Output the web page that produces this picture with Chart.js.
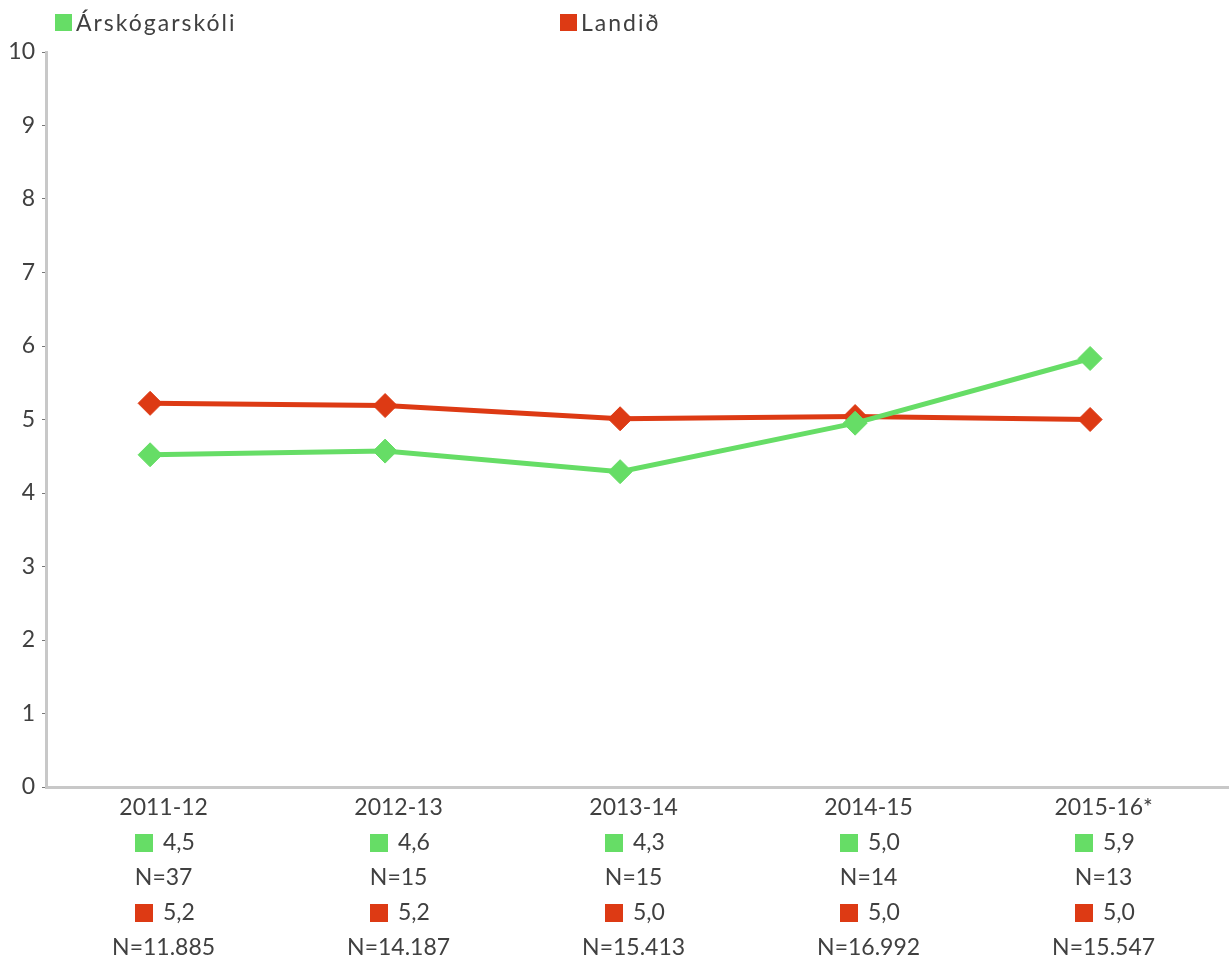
<!DOCTYPE html>
<html>
<head>
<meta charset="utf-8">
<script src="https://cdn.jsdelivr.net/npm/chart.js@4/dist/chart.umd.min.js"></script>
<style>
  body { margin: 0; background: #fff; }
  .wrap { position: relative; width: 1229px; height: 957px; }
  .legend { position: absolute; top: 8px; left: 0; font: 23px Lato, sans-serif; color: #404040; letter-spacing: 2px; }
  .legend span.item { position: absolute; white-space: nowrap; display: flex; align-items: center; }
  .legend i { display: inline-block; width: 17px; height: 17px; margin-right: 4px; }
</style>
</head>
<body>
<div class="wrap">
  <div class="legend" id="legend"></div>
  <canvas id="chart"></canvas>
</div>
<script>
// Data
const categories = ["2011-12", "2012-13", "2013-14", "2014-15", "2015-16*"];
const seriesNames = ["Árskógarskóli", "Landið"];
const schoolValues = [4.52, 4.57, 4.29, 4.95, 5.83];
const countryValues = [5.22, 5.19, 5.01, 5.04, 5.0];
const schoolText = ["4,5", "4,6", "4,3", "5,0", "5,9"];
const schoolN = ["N=37", "N=15", "N=15", "N=14", "N=13"];
const countryText = ["5,2", "5,2", "5,0", "5,0", "5,0"];
const countryN = ["N=11.885", "N=14.187", "N=15.413", "N=16.992", "N=15.547"];
const yTicks = [0, 1, 2, 3, 4, 5, 6, 7, 8, 9, 10];

const green = "#66dd66";
const red = "#dd3a14";
const textColor = "#404040";
const axisGray = "#c8c8c8";
const LH = 35;
const FS = 23;
const PAD = 3;
const LABEL_SHIFT = 13.5;

// HTML legend
const legend = document.getElementById("legend");
[[seriesNames[0], green, 55], [seriesNames[1], red, 560]].forEach(([name, col, left]) => {
  const s = document.createElement("span");
  s.className = "item";
  s.style.left = left + "px";
  s.innerHTML = '<i style="background:' + col + '"></i>' + name;
  legend.appendChild(s);
});

// value rows under the x axis: colored square + value
const valueRowsPlugin = {
  id: "valueRows",
  afterDraw(chart) {
    const xs = chart.scales.x;
    const ctx = chart.ctx;
    ctx.save();
    ctx.font = FS + "px Lato";
    ctx.textBaseline = "middle";
    ctx.textAlign = "left";
    categories.forEach((c, i) => {
      const px = Math.round(xs.getPixelForValue(i) + LABEL_SHIFT);
      [[schoolText[i], green, 1], [countryText[i], red, 3]].forEach(([t, col, line]) => {
        const cy = xs.top + PAD + LH * (line + 0.5);
        ctx.fillStyle = col;
        ctx.fillRect(px - 29, Math.round(cy - 9), 18, 18);
        ctx.fillStyle = textColor;
        ctx.fillText(t, px - 1, cy);
      });
    });
    ctx.restore();
  }
};

const ctx = document.getElementById("chart").getContext("2d");
new Chart(ctx, {
  type: "line",
  data: {
    datasets: [
      {
        label: seriesNames[0],
        data: schoolValues.map((v, i) => ({ x: i, y: v })),
        borderColor: green,
        backgroundColor: green,
        borderWidth: 5,
        pointStyle: "rectRot",
        pointRadius: 12,
        pointHoverRadius: 12,
        pointBorderWidth: 1,
        tension: 0
      },
      {
        label: seriesNames[1],
        data: countryValues.map((v, i) => ({ x: i, y: v })),
        borderColor: red,
        backgroundColor: red,
        borderWidth: 5,
        pointStyle: "rectRot",
        pointRadius: 12,
        pointHoverRadius: 12,
        pointBorderWidth: 1,
        tension: 0
      }
    ]
  },
  options: {
    responsive: true,
    maintainAspectRatio: false,
    animation: false,
    layout: { autoPadding: false, padding: { top: 52, right: 0, left: 0, bottom: 0 } },
    plugins: { legend: { display: false }, tooltip: { enabled: false } },
    scales: {
      x: {
        type: "linear",
        min: -0.443,
        max: 4.591,
        afterBuildTicks: (scale) => { scale.ticks = categories.map((c, i) => ({ value: i })); },
        afterFit: (scale) => {
          scale.height = 170;
          scale.paddingLeft = 0;
          scale.paddingRight = 0;
        },
        grid: { drawOnChartArea: false, drawTicks: false },
        border: { display: true, color: axisGray, width: 3 },
        ticks: {
          padding: PAD,
          labelOffset: LABEL_SHIFT,
          color: textColor,
          font: { family: "Lato", size: FS, lineHeight: LH / FS },
          maxRotation: 0,
          autoSkip: false,
          callback: (value) => {
            const i = Math.round(value);
            return [categories[i], "", schoolN[i], "", countryN[i]];
          }
        }
      },
      y: {
        min: 0,
        max: 10,
        afterBuildTicks: (scale) => { scale.ticks = yTicks.map((v) => ({ value: v })); },
        afterFit: (scale) => { scale.width = 46; },
        grid: { drawOnChartArea: false, drawTicks: true, tickLength: 4, color: "#777", lineWidth: 1 },
        border: { display: true, color: axisGray, width: 3 },
        ticks: {
          padding: 7,
          color: textColor,
          font: { family: "Lato", size: FS }
        }
      }
    }
  },
  plugins: [valueRowsPlugin]
});
</script>
</body>
</html>
